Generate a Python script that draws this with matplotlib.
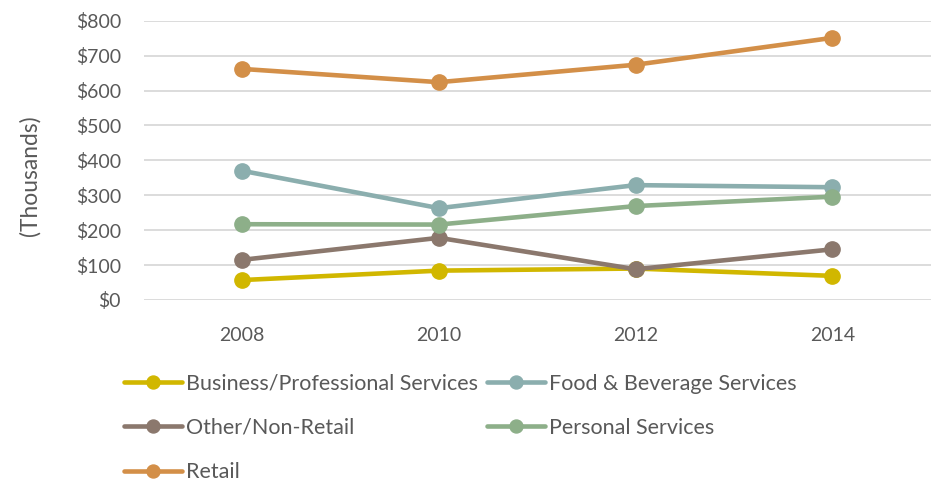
import matplotlib
matplotlib.use("Agg")
import matplotlib.pyplot as plt
from matplotlib.ticker import FuncFormatter

plt.rcParams['font.family'] = ['Lato', 'DejaVu Sans']

years = [2008, 2010, 2012, 2014]
business = [57, 84, 90, 69]
food_bev = [370, 263, 329, 323]
other = [115, 178, 88, 145]
personal = [217, 216, 269, 296]
retail = [662, 624, 674, 751]

series = [
    ("Business/Professional Services", business, "#D1B700"),
    ("Food & Beverage Services", food_bev, "#8BAEAE"),
    ("Other/Non-Retail", other, "#8B786D"),
    ("Personal Services", personal, "#8DAF89"),
    ("Retail", retail, "#D38F48"),
]

fig = plt.figure(figsize=(9.32, 4.83), dpi=100)
ax = fig.add_axes([0.1545, 0.379, 0.844, 0.578])

handles = {}
for name, vals, color in series:
    h, = ax.plot(years, vals, color=color, lw=3.3, marker='o', ms=11,
                 solid_capstyle='round', label=name, zorder=3)
    handles[name] = h

ax.set_xlim(2007, 2015)
ax.set_ylim(0, 800)
ax.set_yticks(range(0, 801, 100))
ax.set_xticks(years)
ax.yaxis.set_major_formatter(FuncFormatter(lambda v, p: f"${int(v)}"))
ax.grid(axis='y', color='#D9D9D9', lw=1.3, zorder=0)
for s in ax.spines.values():
    s.set_visible(False)
ax.tick_params(length=0, labelsize=14, labelcolor='#595959')
ax.tick_params(axis='x', pad=19.5)
ax.tick_params(axis='y', pad=16.5)
ax.set_ylabel("(Thousands)", fontsize=16.4, color='#595959')
ax.yaxis.set_label_coords(-0.131, 0.444)

order = ["Business/Professional Services", "Other/Non-Retail", "Retail",
         "Food & Beverage Services", "Personal Services"]
leg = fig.legend([handles[n] for n in order], order, ncol=2,
                 loc='upper left', bbox_to_anchor=(0.133, 0.226),
                 frameon=False, fontsize=15.5, labelcolor='#595959',
                 handlelength=2.7, handletextpad=0.2, columnspacing=0.4,
                 labelspacing=1.12, borderaxespad=0, borderpad=0,
                 markerscale=0.85)

fig.savefig("out.png", dpi=100)
